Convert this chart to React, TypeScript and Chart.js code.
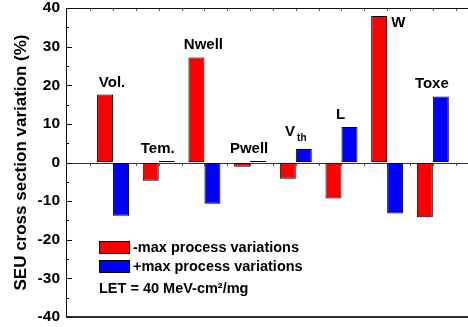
import React, { useEffect, useRef } from "react";
import { Chart, registerables } from "chart.js";

Chart.register(...registerables);

const categories = ["Vol.", "Tem.", "Nwell", "Pwell", "V_th", "L", "W", "Toxe"];
const labelSide = ["top", "top", "top", "top", "top", "top", "right", "top"];
const minusMax = [17.6, -4.7, 27.2, -1.1, -4.2, -9.3, 37.9, -14.2];
const plusMax = [-13.8, 0.4, -10.7, 0.4, 3.5, 9.2, -13.2, 17.1];
const seriesNames = ["-max process variations", "+max process variations"];
const seriesColors = ["#ff0000", "#0000ff"];
const yTicks = [-40, -30, -20, -10, 0, 10, 20, 30, 40];
const noteText = "LET = 40 MeV-cm\u00B2/mg";
const yTitle = "SEU cross section variation (%)";

const FONT = '"Liberation Sans", Arial, Helvetica, sans-serif';

const decorPlugin = {
  id: "decor",
  beforeDatasetsDraw(chart: any) {
    const { ctx, chartArea, scales } = chart;
    const x = scales.x;
    const y = scales.y;
    const y0 = y.getPixelForValue(0);
    ctx.save();
    ctx.strokeStyle = "#333";
    ctx.lineWidth = 1;
    ctx.beginPath();
    ctx.moveTo(chartArea.left, Math.round(y0) + 0.5);
    ctx.lineTo(chartArea.right, Math.round(y0) + 0.5);
    ctx.stroke();
    ctx.strokeStyle = "#555";
    for (let v = 0.5; v <= x.max; v += 0.5) {
      const px = Math.round(x.getPixelForValue(v)) + 0.5;
      ctx.beginPath();
      ctx.moveTo(px, Math.round(y0));
      ctx.lineTo(px, Math.round(y0) + 3);
      ctx.moveTo(px, chartArea.top);
      ctx.lineTo(px, chartArea.top + 3);
      ctx.stroke();
    }
    ctx.restore();
  },
  afterDatasetsDraw(chart: any) {
    const { ctx, chartArea, scales } = chart;
    const y = scales.y;
    ctx.save();
    ctx.strokeStyle = "#111";
    ctx.lineWidth = 1;
    ctx.beginPath();
    ctx.moveTo(chartArea.left, chartArea.top + 0.5);
    ctx.lineTo(chartArea.right, chartArea.top + 0.5);
    ctx.stroke();
    ctx.lineWidth = 2;
    ctx.strokeStyle = "#333";
    ctx.beginPath();
    ctx.moveTo(chartArea.left, chartArea.bottom);
    ctx.lineTo(chartArea.right, chartArea.bottom);
    ctx.stroke();
    ctx.lineWidth = 1;
    ctx.strokeStyle = "#111";
    for (let v = y.min; v <= y.max; v += 5) {
      const py = Math.round(y.getPixelForValue(v)) + 0.5;
      const len = v % 10 === 0 ? 6 : 3;
      ctx.beginPath();
      ctx.moveTo(chartArea.left, py);
      ctx.lineTo(chartArea.left + len, py);
      ctx.stroke();
    }
    const m0 = chart.getDatasetMeta(0);
    const m1 = chart.getDatasetMeta(1);
    ctx.fillStyle = "#000";
    categories.forEach((cat, i) => {
      const b0 = m0.data[i];
      const b1 = m1.data[i];
      const cx = (b0.x + b1.x) / 2;
      const parts = cat.split("_");
      if (labelSide[i] === "right") {
        ctx.font = `bold 15px ${FONT}`;
        ctx.textAlign = "left";
        ctx.textBaseline = "top";
        const right = b0.x + b0.width / 2;
        ctx.fillText(parts[0], right + 4, Math.min(b0.y, b1.y) - 1);
        return;
      }
      const topY = Math.min(b0.y, b1.y, y.getPixelForValue(0));
      const base = topY - 8;
      ctx.textBaseline = "alphabetic";
      if (parts.length > 1) {
        ctx.font = `bold 15px ${FONT}`;
        const w1 = ctx.measureText(parts[0]).width;
        ctx.font = `bold 10px ${FONT}`;
        const w2 = ctx.measureText(parts[1]).width;
        const start = cx - (w1 + w2 + 2) / 2;
        ctx.textAlign = "left";
        ctx.font = `bold 15px ${FONT}`;
        ctx.fillText(parts[0], start, base - 5);
        ctx.font = `bold 10px ${FONT}`;
        ctx.fillText(parts[1], start + w1 + 2, base);
      } else {
        ctx.font = `bold 15px ${FONT}`;
        ctx.textAlign = "center";
        ctx.fillText(parts[0], cx - 1, base);
      }
    });
    const lx = chartArea.left + 33;
    const ly = 241;
    chart.data.datasets.forEach((ds: any, i: number) => {
      const by = ly + i * 19;
      ctx.fillStyle = ds.backgroundColor;
      ctx.fillRect(lx, by, 30, 12);
      ctx.strokeStyle = "#000";
      ctx.lineWidth = 1;
      ctx.strokeRect(lx + 0.5, by + 0.5, 30, 12);
      ctx.fillStyle = "#000";
      ctx.font = `bold 14.5px ${FONT}`;
      ctx.textAlign = "left";
      ctx.textBaseline = "middle";
      ctx.fillText(ds.label, lx + 34, by + 6.5);
    });
    ctx.font = `bold 14.5px ${FONT}`;
    ctx.textBaseline = "alphabetic";
    ctx.fillText(noteText, lx, 293);
    ctx.restore();
  },
};

export default function App() {
  const ref = useRef<HTMLCanvasElement>(null);
  useEffect(() => {
    if (!ref.current) return;
    const chart = new Chart(ref.current, {
      type: "bar",
      data: {
        datasets: [minusMax, plusMax].map((vals, s) => ({
          label: seriesNames[s],
          data: vals.map((v, i) => ({ x: i + 1, y: v })),
          backgroundColor: seriesColors[s],
          borderColor: "#000",
          borderWidth: 1,
          borderSkipped: false,
          barPercentage: 1,
          categoryPercentage: 0.7,
        })),
      },
      options: {
        animation: false,
        responsive: false,
        devicePixelRatio: 1,
        layout: { padding: { top: 8, right: 0, bottom: 10, left: 0 } },
        plugins: { legend: { display: false }, tooltip: { enabled: false } },
        scales: {
          x: {
            type: "linear",
            min: -0.03,
            max: 8.77,
            offset: false,
            display: false,
          },
          y: {
            min: -40,
            max: 40,
            afterBuildTicks: (scale: any) => {
              scale.ticks = yTicks.map((v) => ({ value: v }));
            },
            afterFit: (scale: any) => {
              scale.width = 66;
              scale.paddingTop = 0;
              scale.paddingBottom = 0;
            },
            ticks: {
              color: "#000",
              padding: 6,
              font: { family: FONT, size: 15.5, weight: "bold" },
            },
            grid: { drawOnChartArea: false, drawTicks: false },
            border: { display: true, color: "#111", width: 1 },
            title: {
              display: true,
              text: yTitle,
              color: "#000",
              font: { family: FONT, size: 17, weight: "bold" },
              padding: { top: 11, bottom: 0 },
            },
          },
        },
      },
      plugins: [decorPlugin],
    } as any);
    return () => chart.destroy();
  }, []);
  return (
    <div style={{ position: "absolute", left: 0, top: 0, width: 468, height: 327 }}>
      <canvas ref={ref} width={468} height={327} />
    </div>
  );
}
